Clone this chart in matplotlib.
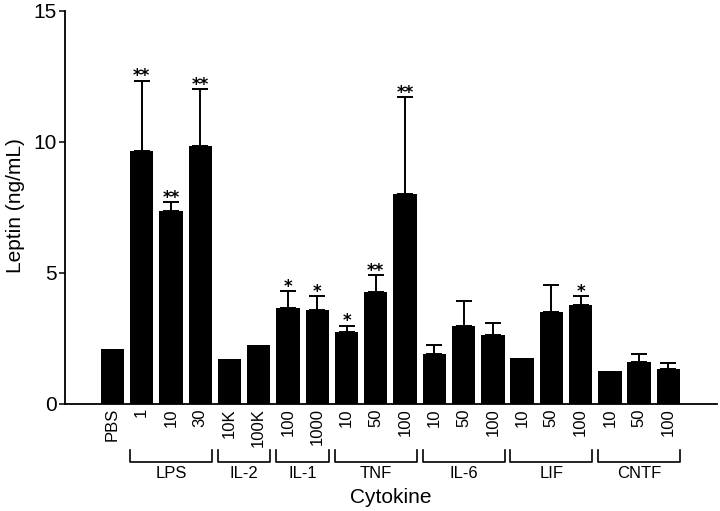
import matplotlib
matplotlib.use("Agg")
import matplotlib.pyplot as plt
import matplotlib.transforms as mtransforms
import numpy as np

plt.rcParams['font.family'] = ['Liberation Sans', 'DejaVu Sans']

# doses under each bar
tick_labels = ['PBS', '1', '10', '30', '10K', '100K', '100', '1000',
               '10', '50', '100', '10', '50', '100', '10', '50', '100',
               '10', '50', '100']
# leptin (ng/mL), mean and upper error
means = [2.11, 9.67, 7.38, 9.85, 1.73, 2.24, 3.66, 3.60, 2.76, 4.27,
         8.00, 1.91, 2.98, 2.63, 1.76, 3.52, 3.77, 1.26, 1.61, 1.34]
errors = [0, 2.67, 0.32, 2.16, 0, 0, 0.65, 0.51, 0.23, 0.65,
          3.70, 0.35, 0.95, 0.47, 0, 1.02, 0.35, 0, 0.31, 0.21]
stars = ['', '**', '**', '**', '', '', '*', '*', '*', '**',
         '**', '', '', '', '', '', '*', '', '', '']
# cytokine groups: name, first bar, last bar
groups = [('LPS', 1, 3), ('IL-2', 4, 5), ('IL-1', 6, 7), ('TNF', 8, 10),
          ('IL-6', 11, 13), ('LIF', 14, 16), ('CNTF', 17, 19)]

fig = plt.figure(figsize=(7.2, 5.11), dpi=100)
ax = fig.add_axes([0.0903, 0.2094, 0.9055, 0.7691])

x = np.arange(len(means))
width = 0.8
ax.bar(x, means, width=width, color='black', zorder=2)

has_err = [i for i, e in enumerate(errors) if e > 0]
ax.errorbar(x[has_err], np.array(means)[has_err],
            yerr=[np.zeros(len(has_err)), np.array(errors)[has_err]],
            fmt='none', ecolor='black', elinewidth=1.4, capsize=6,
            capthick=1.4, zorder=1)

for i, s in enumerate(stars):
    if s:
        ax.annotate(s, (x[i], means[i] + errors[i]), xytext=(0, -0.4),
                    textcoords='offset points', ha='center', va='baseline',
                    fontsize=12, fontweight='bold', family='DejaVu Sans')

ax.set_xlim(-1.62, 20.66)
ax.set_ylim(0, 15)
ax.set_yticks([0, 5, 10, 15])
ax.set_xticks(x)
ax.set_xticklabels(tick_labels, rotation=90, fontsize=12)
ax.tick_params(axis='x', length=0, pad=3)
ax.tick_params(axis='y', direction='out', length=4.3, width=1.1, pad=1.5,
               labelsize=15)

for side in ['top', 'right']:
    ax.spines[side].set_visible(False)
for side in ['left', 'bottom']:
    ax.spines[side].set_linewidth(1.3)

trans = mtransforms.blended_transform_factory(ax.transData, ax.transAxes)
for name, a, b in groups:
    x0 = a - width / 2
    x1 = b + width / 2
    ax.plot([x0, x0, x1, x1], [-0.117, -0.148, -0.148, -0.117],
            color='black', lw=1.2, transform=trans, clip_on=False)
    ax.text((a + b) / 2, -0.176, name, transform=trans, ha='center',
            va='center', fontsize=12)

ax.text(0.5, -0.239, 'Cytokine', transform=ax.transAxes, ha='center',
        va='center', fontsize=15)
ax.text(-0.0767, 0.506, 'Leptin (ng/mL)', transform=ax.transAxes,
        rotation=90, ha='center', va='center', fontsize=15)

fig.savefig('out.png', dpi=100)
